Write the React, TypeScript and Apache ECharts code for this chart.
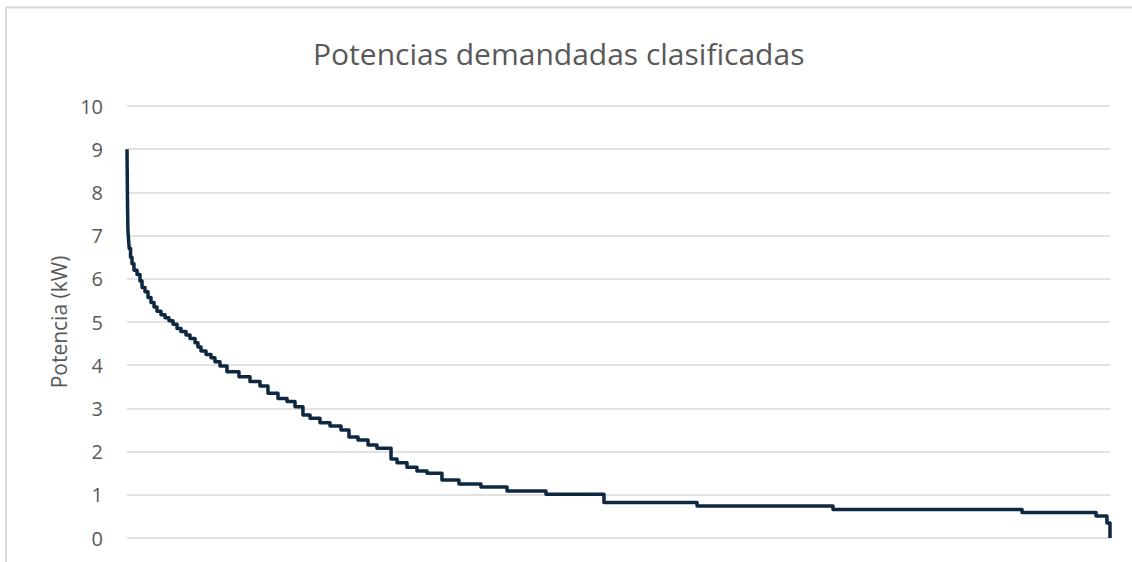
import React, { useEffect, useRef } from "react";
import * as echarts from "echarts";

// Share of time (%) where each sorted power level starts
const timePct: number[] = [
  0, 0.02, 0.04, 0.06, 0.08, 0.1, 0.16, 0.23, 0.36, 0.51, 0.71, 1.02, 1.32, 1.53,
  1.83, 2.14, 2.44, 2.75, 3.05, 3.46, 3.87, 4.27, 4.68, 5.09, 5.49, 6.0, 6.41,
  6.92, 7.22, 7.53, 8.04, 8.55, 8.95, 9.46, 10.17, 11.39, 12.51, 13.53, 14.34,
  15.36, 16.28, 17.09, 17.9, 18.62, 19.63, 20.65, 21.77, 22.58, 23.5, 24.52,
  25.43, 26.86, 27.47, 28.48, 29.5, 30.52, 32.04, 33.77, 36.01, 38.66, 42.62,
  48.52, 57.99, 71.82, 91.05, 98.58, 99.69, 100,
];

// Power level (kW) held from each start point to the next
const powerKw: number[] = [
  9.0, 8.5, 8.0, 7.6, 7.3, 7.1, 6.9, 6.7, 6.5, 6.35, 6.2, 6.1, 5.95, 5.8,
  5.7, 5.57, 5.45, 5.35, 5.25, 5.17, 5.1, 5.03, 4.95, 4.85, 4.78, 4.7, 4.62,
  4.52, 4.42, 4.33, 4.25, 4.17, 4.08, 3.98, 3.85, 3.73, 3.62, 3.52, 3.35,
  3.23, 3.16, 3.04, 2.85, 2.77, 2.67, 2.59, 2.5, 2.34, 2.27, 2.15,
  2.08, 1.83, 1.74, 1.64, 1.55, 1.5, 1.34, 1.25, 1.18, 1.09, 1.01,
  0.82, 0.74, 0.66, 0.59, 0.51, 0.35, 0,
];

const yTicks: number[] = [0, 1, 2, 3, 4, 5, 6, 7, 8, 9, 10];

const chartTitle = "Potencias demandadas clasificadas";
const yAxisTitle = "Potencia (kW)";

export default function App() {
  const ref = useRef<HTMLDivElement>(null);

  useEffect(() => {
    document.body.style.margin = "0";
    if (!ref.current) return;
    const chart = echarts.init(ref.current, undefined, { renderer: "svg" });
    const font = "'Open Sans', 'Liberation Sans', sans-serif";
    const data = timePct.map((t, i) => [t, powerKw[i]]);
    chart.setOption({
      animation: false,
      backgroundColor: "#ffffff",
      textStyle: { fontFamily: font },
      title: {
        text: chartTitle,
        left: 308,
        top: 33,
        textStyle: { fontFamily: font, fontSize: 30, fontWeight: "normal", color: "#595959" },
      },
      graphic: [
        {
          type: "rect",
          shape: { x: 6, y: 7.5, width: 1200, height: 700 },
          style: { fill: "none", stroke: "#d9d9d9", lineWidth: 2 },
          silent: true,
          z: -1,
        },
      ],
      grid: { left: 127, right: 22, top: 106, bottom: 24, containLabel: false },
      xAxis: {
        type: "value",
        min: 0,
        max: 100,
        show: true,
        axisLine: { show: false },
        axisTick: { show: false },
        axisLabel: { show: false },
        splitLine: { show: false },
      },
      yAxis: {
        type: "value",
        min: yTicks[0],
        max: yTicks[yTicks.length - 1],
        interval: 1,
        name: yAxisTitle,
        nameLocation: "middle",
        nameRotate: 90,
        nameGap: 53,
        nameTextStyle: { fontFamily: font, fontSize: 21, color: "#595959" },
        axisLine: { show: false },
        axisTick: { show: false },
        axisLabel: { fontFamily: font, fontSize: 20, color: "#595959", margin: 24 },
        splitLine: { lineStyle: { color: "#d9d9d9", width: 1.5 } },
      },
      series: [
        {
          type: "line",
          step: "end",
          data,
          showSymbol: false,
          symbol: "none",
          lineStyle: { color: "#0e2841", width: 3.5, join: "round" },
        },
      ],
    });
    return () => chart.dispose();
  }, []);

  return <div ref={ref} style={{ width: 1132, height: 562 }} />;
}
